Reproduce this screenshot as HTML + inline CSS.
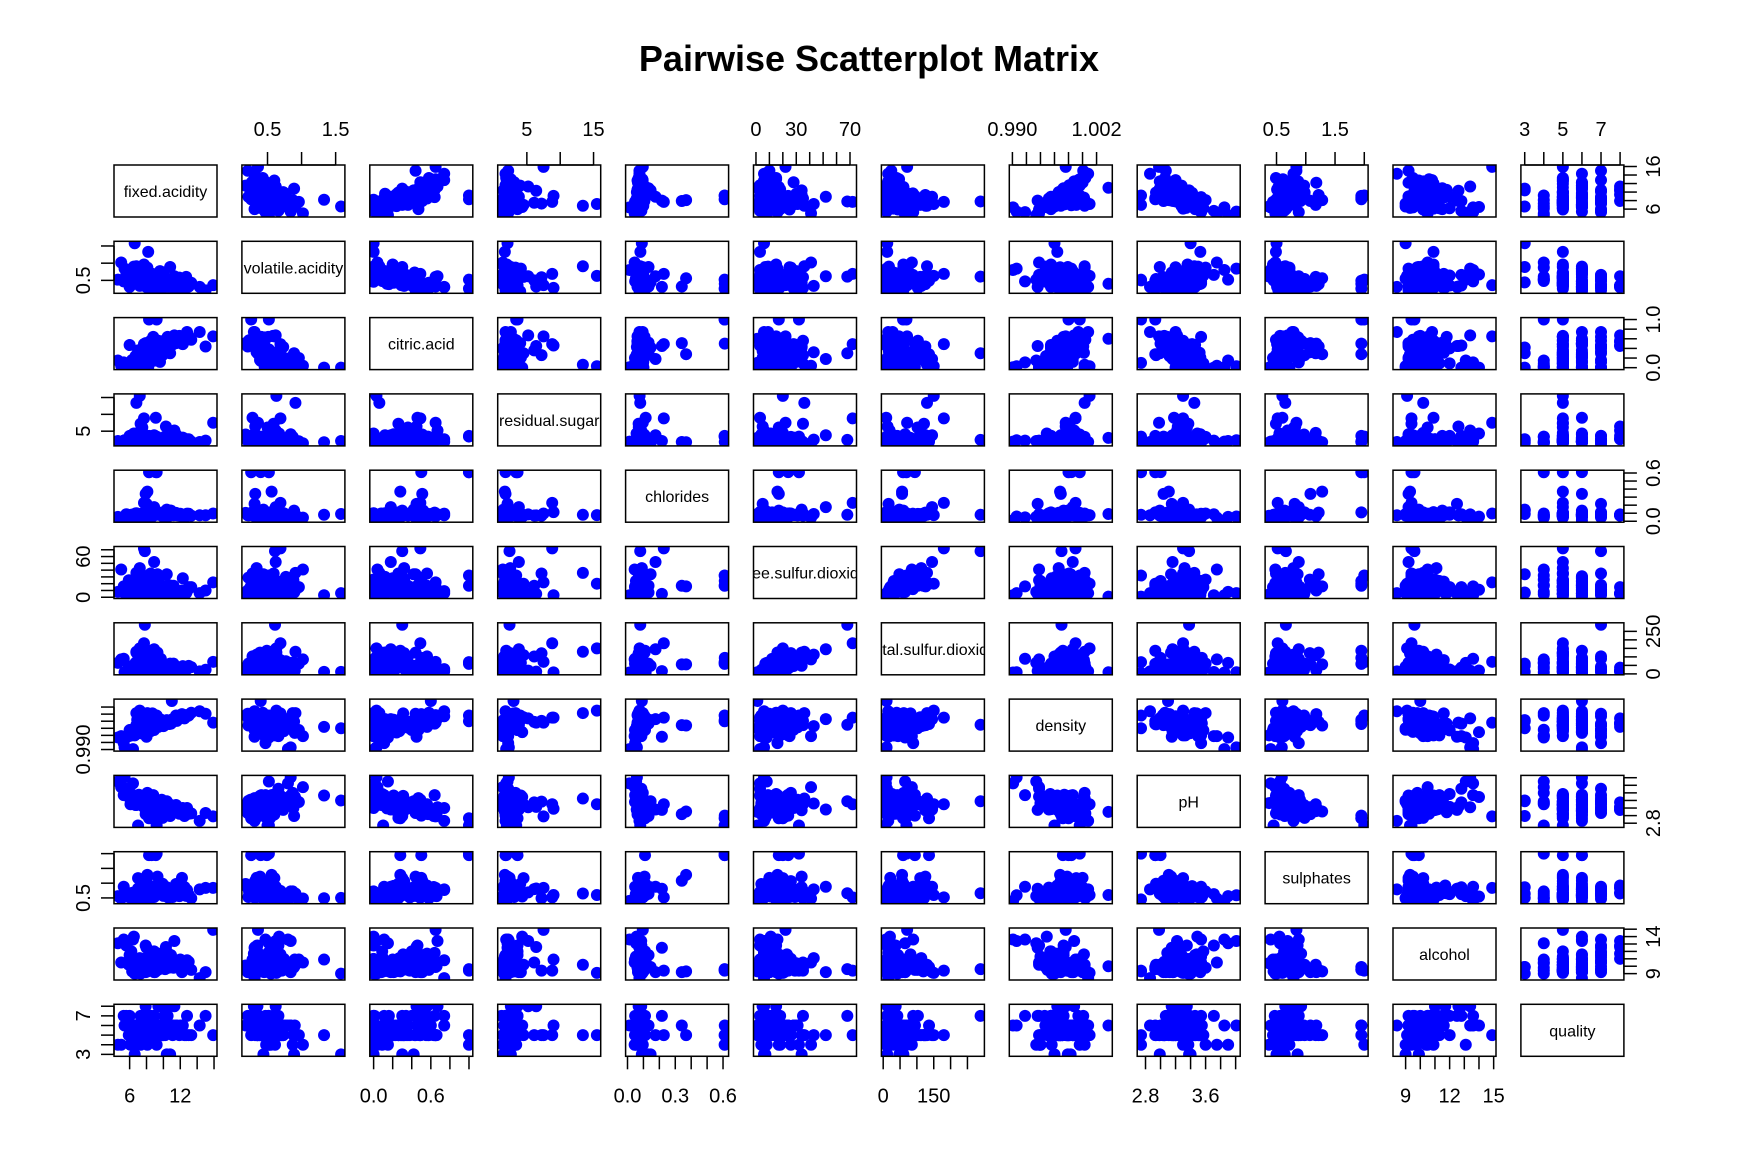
<!DOCTYPE html>
<html><head><meta charset="utf-8"><style>
html,body{margin:0;padding:0;background:#fff;}
svg{display:block;font-family:"Liberation Sans",Arial,sans-serif;}
</style></head><body>
<svg id="chart" width="1738" height="1170" viewBox="0 0 1738 1170">
<text x="869" y="71" text-anchor="middle" font-size="36" font-weight="bold">Pairwise Scatterplot Matrix</text>
<g id="panels"></g>
</svg>
<script>
const varNames = ["fixed.acidity","volatile.acidity","citric.acid","residual.sugar","chlorides","free.sulfur.dioxide","total.sulfur.dioxide","density","pH","sulphates","alcohol","quality"];
const rows = [
[7.4,0.70,0.00,1.9,0.076,11,34,0.9978,3.51,0.56,9.4,5],
[7.8,0.88,0.00,2.6,0.098,25,67,0.9968,3.20,0.68,9.8,5],
[11.2,0.28,0.56,1.9,0.075,17,60,0.9980,3.16,0.58,9.8,6],
[7.3,0.65,0.00,1.2,0.065,15,21,0.9946,3.39,0.47,10.0,7],
[7.5,0.50,0.36,6.1,0.071,17,102,0.9978,3.35,0.80,10.5,5],
[6.7,0.58,0.08,1.8,0.097,15,65,0.9959,3.28,0.54,9.2,5],
[8.9,0.62,0.18,3.8,0.176,52,145,0.9986,3.16,0.88,9.2,5],
[8.5,0.28,0.56,1.8,0.092,35,103,0.9969,3.30,0.75,10.5,7],
[8.1,0.56,0.28,1.7,0.368,16,56,0.9968,3.11,1.28,9.3,5],
[7.9,0.32,0.51,1.8,0.341,17,56,0.9969,3.04,1.08,9.2,6],
[4.6,0.52,0.15,2.1,0.054,8,65,0.9934,3.90,0.56,13.1,4],
[15.9,0.36,0.65,7.5,0.096,22,71,0.9976,2.98,0.84,14.9,5],
[5.0,1.02,0.04,1.4,0.045,41,85,0.9938,3.75,0.48,10.5,4],
[6.6,1.58,0.00,2.1,0.090,6,12,0.9960,3.40,0.50,9.0,3],
[12.8,0.30,0.74,2.6,0.095,9,28,0.9994,3.20,0.77,10.8,7],
[10.4,0.44,0.42,1.5,0.145,34,48,0.9983,3.38,0.86,9.9,3],
[7.2,0.63,0.03,15.5,0.076,20,150,1.0010,3.30,0.60,9.1,5],
[6.8,0.91,0.06,13.4,0.080,36,130,1.0003,3.45,0.65,10.2,5],
[9.1,0.40,0.50,1.8,0.611,24,94,0.9984,3.00,1.95,9.5,6],
[7.7,0.69,0.49,8.8,0.228,72,180,0.9990,3.30,0.52,9.4,5],
[7.8,0.61,0.30,2.4,0.080,68,289,0.9970,3.38,0.66,9.6,7],
[6.4,0.80,0.01,1.9,0.012,3,8,0.9901,3.85,0.40,13.6,6],
[13.3,0.43,0.58,1.9,0.070,15,40,1.0004,3.06,0.49,9.5,5],
[15.0,0.21,0.44,2.2,0.075,10,24,1.0001,3.07,0.84,9.2,7],
[5.4,0.84,0.03,2.3,0.059,6,10,0.9906,4.01,0.59,13.4,6],
[8.3,0.26,1.00,3.6,0.610,17,59,0.9980,2.93,1.95,9.6,5],
[10.6,0.31,0.49,2.2,0.063,18,40,0.9976,3.14,0.51,9.8,6],
[12.0,0.38,0.56,2.1,0.093,6,24,0.9993,3.14,0.71,10.9,6],
[9.4,0.30,0.56,2.8,0.080,6,17,0.9964,3.15,0.92,11.7,8],
[7.1,0.71,0.00,1.9,0.080,14,35,0.9972,3.47,0.55,9.4,5],
[8.9,0.22,0.48,1.8,0.077,29,60,0.9968,3.39,0.53,9.4,6],
[7.6,0.39,0.31,2.3,0.082,23,71,0.9982,3.52,0.65,9.7,5],
[6.9,0.40,0.14,2.4,0.085,21,40,0.9968,3.43,0.63,9.7,6],
[10.3,0.32,0.45,6.4,0.073,5,13,0.9976,3.23,0.82,12.6,8],
[7.0,0.60,0.30,4.5,0.068,20,110,0.9991,3.30,1.17,10.2,5],
[11.5,0.18,0.51,4.0,0.104,4,23,0.9996,3.28,0.97,10.1,6],
[6.2,0.56,0.09,1.7,0.053,24,32,0.9940,3.54,0.60,11.3,5],
[9.9,0.54,0.26,2.0,0.111,7,60,0.9971,2.94,0.98,10.2,5],
[8.6,0.49,0.28,1.9,0.110,20,136,0.9972,2.93,1.95,9.9,6],
[7.3,0.59,0.26,7.2,0.070,35,121,0.9981,3.37,0.49,9.4,5],
[12.5,0.46,0.63,2.0,0.071,6,15,0.9988,2.99,0.87,10.2,5],
[6.0,0.31,0.47,3.6,0.067,18,42,0.9955,3.46,0.66,11.5,7],
[8.2,1.33,0.00,1.7,0.081,3,12,0.9964,3.53,0.49,10.9,5],
[10.8,0.89,0.30,2.6,0.132,7,60,0.9979,2.99,0.64,9.9,3],
[5.6,0.66,0.00,2.2,0.087,3,11,0.9938,3.71,0.63,12.8,7],
[11.9,0.58,0.66,2.5,0.072,6,37,0.9992,3.05,0.56,10.0,5],
[9.0,0.45,0.49,2.6,0.084,21,30,0.9987,3.17,0.75,9.2,5],
[7.7,0.96,0.20,2.0,0.047,15,60,0.9955,3.36,0.44,10.9,5],
[14.3,0.31,0.74,1.8,0.075,6,15,1.0008,2.86,0.79,8.4,6],
[10.0,0.73,0.43,2.3,0.059,15,31,0.9966,3.15,0.57,11.0,5],
[8.0,0.42,0.32,2.5,0.080,26,122,0.9980,3.22,1.07,9.7,5],
[7.0,0.43,0.36,1.6,0.089,14,37,0.9962,3.34,0.82,9.5,6],
[6.5,0.67,0.00,4.3,0.057,11,20,0.9949,3.49,0.55,14.0,6],
[9.8,0.25,0.49,2.7,0.088,15,33,0.9982,3.42,0.90,10.0,6],
[11.1,0.35,0.48,3.1,0.090,5,21,0.9986,3.17,0.53,10.5,5],
[8.8,0.61,0.14,2.4,0.067,10,42,0.9969,3.19,0.59,9.5,5],
[7.9,0.35,0.46,3.6,0.078,15,37,0.9973,3.35,0.86,12.8,8],
[6.9,0.49,0.10,2.3,0.074,12,30,0.9959,3.42,0.58,10.2,6],
[13.0,0.32,0.65,2.6,0.093,15,47,0.9996,3.05,0.61,10.6,5],
[7.2,0.38,0.30,1.8,0.073,31,70,0.9963,3.42,0.59,9.5,6],
[9.6,0.77,0.12,2.9,0.082,30,74,0.9986,3.30,0.64,10.4,6],
[8.4,0.37,0.43,2.3,0.063,12,19,0.9955,3.17,0.81,11.2,7],
[6.1,0.48,0.09,1.7,0.078,18,30,0.9940,3.30,0.64,10.9,4],
[10.5,0.51,0.64,2.4,0.107,6,15,0.9973,3.09,0.66,11.8,7],
[7.6,0.54,0.13,2.5,0.097,24,66,0.9978,3.39,0.61,9.4,5],
[12.3,0.27,0.49,3.1,0.079,28,46,0.9993,3.20,0.80,10.2,6],
[8.7,0.69,0.31,3.0,0.086,23,81,1.0002,3.48,0.74,11.6,6],
[5.3,0.47,0.11,2.2,0.048,16,89,0.9918,3.54,0.88,13.6,7],
[7.5,0.52,0.16,1.9,0.085,12,35,0.9968,3.38,0.62,9.5,7],
[9.3,0.39,0.44,2.1,0.107,34,125,0.9978,3.14,1.22,9.5,5],
[11.6,0.23,0.57,1.8,0.074,3,8,0.9981,3.14,0.70,9.9,6],
[6.6,0.61,0.00,1.6,0.069,4,8,0.9940,3.33,0.37,10.4,4],
[8.0,0.31,0.45,2.1,0.216,5,16,0.9936,3.15,0.81,12.5,7],
[10.2,0.42,0.57,3.4,0.070,4,10,0.9971,3.04,0.63,9.6,5],
[7.1,0.46,0.20,1.9,0.077,28,54,0.9956,3.37,0.64,10.4,6],
[7.0,0.50,0.10,2.0,0.080,1,6,0.9960,2.74,0.45,9.3,5],
[11.0,0.40,0.60,3.0,0.090,1,10,1.0037,3.10,0.60,10.0,6],
[8.3,0.65,0.10,2.9,0.089,17,40,0.9980,3.29,0.55,9.5,5],
[7.7,0.58,0.01,1.8,0.088,12,18,0.9957,3.32,0.56,10.5,7],
[6.3,0.39,0.16,1.4,0.080,11,23,0.9955,3.34,0.56,9.3,5],
[9.2,0.52,1.00,3.4,0.610,32,69,0.9996,2.74,2.00,9.4,4],
[8.1,0.87,0.00,3.3,0.096,26,61,1.0003,3.60,0.72,9.8,4],
[7.9,0.43,0.21,1.6,0.106,10,37,0.9966,3.17,0.91,9.5,5],
[6.8,0.63,0.12,3.8,0.099,16,126,0.9969,3.28,0.61,9.5,5],
[10.1,0.37,0.34,2.4,0.085,5,17,0.9968,3.17,0.65,10.6,7],
[9.5,0.46,0.24,2.7,0.092,14,44,0.9980,3.12,0.80,9.6,6],
[5.9,0.46,0.00,1.9,0.077,25,44,0.9938,3.50,0.53,10.2,5],
[7.4,0.36,0.29,2.6,0.087,26,72,0.9965,3.39,0.68,11.0,5],
[12.7,0.60,0.65,2.3,0.063,6,25,0.9997,3.03,0.57,9.9,5],
[8.6,0.52,0.38,1.5,0.096,5,18,0.9967,3.20,0.52,9.4,5],
[7.2,0.34,0.32,2.5,0.090,43,113,0.9966,3.32,0.79,11.1,5],
[9.7,0.66,0.34,2.6,0.094,12,88,0.9980,3.26,0.66,10.1,5],
[6.4,0.57,0.02,1.8,0.067,4,11,0.9950,3.46,0.68,9.5,5],
[8.8,0.41,0.64,2.2,0.093,9,42,0.9986,3.54,0.66,10.5,5],
[10.9,0.32,0.52,1.8,0.132,17,44,0.9973,3.28,0.77,11.5,6],
[7.8,0.50,0.17,1.6,0.082,21,102,0.9960,3.39,0.48,9.5,5],
[6.9,0.84,0.21,4.1,0.074,16,65,0.9984,3.53,0.72,9.2,6],
[11.3,0.62,0.67,5.2,0.086,6,19,0.9988,3.22,0.69,13.4,8],
[8.2,0.73,0.21,1.7,0.074,5,13,0.9968,3.20,0.52,9.5,5],
[7.5,0.61,0.26,1.9,0.073,24,88,0.9961,3.30,0.53,9.8,5],
[9.9,0.35,0.55,2.1,0.062,5,14,0.9971,3.26,0.79,10.6,5],
[6.7,0.46,0.24,1.7,0.077,18,34,0.9948,3.39,0.60,10.6,6],
[8.5,0.47,0.27,1.9,0.058,18,38,0.9952,3.16,0.85,11.1,6],
[7.1,0.59,0.02,2.3,0.082,24,94,0.9974,3.55,0.53,9.7,6],
[10.7,0.35,0.53,2.6,0.070,5,16,0.9972,3.15,0.65,11.0,8],
[6.5,0.90,0.00,1.6,0.052,9,17,0.9947,3.50,0.63,10.9,6],
[8.9,0.35,0.40,3.6,0.110,12,24,0.9955,3.23,0.70,12.0,7],
[7.3,0.55,0.03,1.6,0.072,17,42,0.9956,3.37,0.48,9.0,4],
[9.1,0.28,0.46,9.0,0.114,3,9,0.9990,3.18,0.60,10.9,6],
[6.2,0.64,0.09,2.5,0.081,15,26,0.9954,3.57,0.63,12.0,5],
[12.2,0.34,0.50,2.4,0.066,10,21,1.0000,3.12,1.18,9.2,6],
[7.6,0.74,0.00,1.9,0.100,6,12,0.9952,3.24,0.55,11.0,6],
[8.0,0.57,0.23,3.2,0.073,17,119,0.9968,3.26,0.57,9.3,5]
];
const tickVals = [
[6,8,10,12,14,16],[0.5,1.0,1.5],[0,0.2,0.4,0.6,0.8,1.0],[5,10,15],
[0,0.1,0.2,0.3,0.4,0.5,0.6],[0,10,20,30,40,50,60,70],[0,50,100,150,200,250],
[0.990,0.992,0.994,0.996,0.998,1.000,1.002],[2.8,3.0,3.2,3.4,3.6,3.8,4.0],
[0.5,1.0,1.5,2.0],[9,10,11,12,13,14,15],[3,4,5,6,7,8]
];
const xTickLabels = [["6","12"],["0.5","1.5"],["0.0","0.6"],["5","15"],["0.0","0.3","0.6"],["0","30","70"],["0","150"],["0.990","1.002"],["2.8","3.6"],["0.5","1.5"],["9","12","15"],["3","5","7"]];
const yTickLabels = [["6","16"],["0.5"],["0.0","1.0"],["5"],["0.0","0.6"],["0","60"],["0","250"],["0.990"],["2.8"],["0.5"],["9","14"],["3","7"]];

const NS="http://www.w3.org/2000/svg";
const g=document.getElementById('panels');
const n=varNames.length, X0=114, Y0=165, PX=127.9, PY=76.3, W=103, H=52, TL=13;
function mk(t,a){const e=document.createElementNS(NS,t);for(const k in a)e.setAttribute(k,a[k]);return e;}
const ranges=varNames.map((_,k)=>{let mn=Infinity,mx=-Infinity;rows.forEach(r=>{mn=Math.min(mn,r[k]);mx=Math.max(mx,r[k]);});const p=(mx-mn)*0.04;return [mn-p,mx+p];});
function sx(k,v,j){const r=ranges[k];return X0+j*PX+(v-r[0])/(r[1]-r[0])*W;}
function sy(k,v,i){const r=ranges[k];return Y0+i*PY+H-(v-r[0])/(r[1]-r[0])*H;}
const defs=mk('defs',{});g.appendChild(defs);
for(let i=0;i<n;i++){for(let j=0;j<n;j++){
  const px=X0+j*PX, py=Y0+i*PY;
  const cp=mk('clipPath',{id:'c'+i+'_'+j});cp.appendChild(mk('rect',{x:px,y:py,width:W,height:H}));defs.appendChild(cp);
  const pg=mk('g',{'clip-path':'url(#c'+i+'_'+j+')'});
  
  
  if(i===j){
    const t=mk('text',{x:px+W/2,y:py+H/2+6,'text-anchor':'middle','font-size':16});
    t.textContent=varNames[i];
    
    
    pg.appendChild(t);
  } else {
    rows.forEach(r=>{
      const c=mk('circle',{cx:sx(j,r[j],j),cy:sy(i,r[i],i),r:6,fill:'#0000ff'});
      
      
      pg.appendChild(c);
    });
  }
  g.appendChild(pg);
  const b=mk('rect',{x:px,y:py,width:W,height:H,fill:'none',stroke:'#000','stroke-width':1.5});
  
  
  g.appendChild(b);
}}
function fmtMatch(lbls,v){return lbls.find(s=>Math.abs(parseFloat(s)-v)<1e-9);}
for(let j=0;j<n;j++){
  const top=(j%2===1); const base=top?Y0:Y0+(n-1)*PY+H; const dir=top?-1:1;
  const ax=mk('g',{});
  
  
  const tv=tickVals[j].filter(v=>v>=ranges[j][0]&&v<=ranges[j][1]);
  ax.appendChild(mk('line',{x1:sx(j,tv[0],j),x2:sx(j,tv[tv.length-1],j),y1:base,y2:base,stroke:'#000','stroke-width':1.5}));
  tv.forEach(v=>{const x=sx(j,v,j);ax.appendChild(mk('line',{x1:x,x2:x,y1:base,y2:base+dir*TL,stroke:'#000','stroke-width':1.5}));
    const l=fmtMatch(xTickLabels[j],v);
    if(l){const t=mk('text',{x:x,y:top?base-29:base+46,'text-anchor':'middle','font-size':20});t.textContent=l;
      
      
      ax.appendChild(t);}
  });
  g.appendChild(ax);
}
for(let i=0;i<n;i++){
  const left=(i%2===1); const base=left?X0:X0+(n-1)*PX+W; const dir=left?-1:1;
  const ax=mk('g',{});
  
  
  const tv=tickVals[i].filter(v=>v>=ranges[i][0]&&v<=ranges[i][1]);
  ax.appendChild(mk('line',{x1:base,x2:base,y1:sy(i,tv[0],i),y2:sy(i,tv[tv.length-1],i),stroke:'#000','stroke-width':1.5}));
  tv.forEach(v=>{const y=sy(i,v,i);ax.appendChild(mk('line',{x1:base,x2:base+dir*TL,y1:y,y2:y,stroke:'#000','stroke-width':1.5}));
    const l=fmtMatch(yTickLabels[i],v);
    if(l){const lx=left?base-30:base+30;const t=mk('text',{x:lx,y:y,'text-anchor':'middle','font-size':20,'dominant-baseline':'central',transform:'rotate(-90 '+lx+' '+y+')'});t.textContent=l;
      
      
      ax.appendChild(t);}
  });
  g.appendChild(ax);
}
</script>
</body></html>
